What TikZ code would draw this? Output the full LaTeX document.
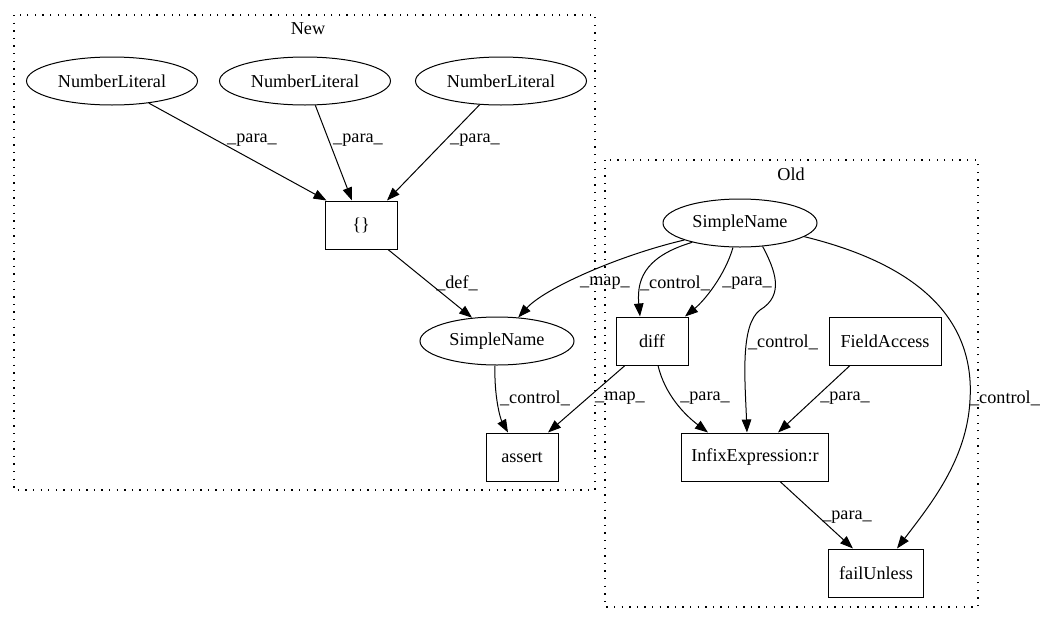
\documentclass[tikz,border=0pt]{standalone}
\usepackage{fontspec}
\setmainfont{Liberation Serif}
\usetikzlibrary{shapes.geometric,arrows.meta}
\begin{document}
\begin{tikzpicture}[x=1pt,y=-1pt,
  every node/.style={font=\fontsize{18.2}{21}\selectfont},
  ell/.style={ellipse,draw,line width=1pt,inner sep=0pt,minimum height=48pt},
  box/.style={rectangle,draw,line width=1pt,inner sep=0pt,minimum height=48pt},
  edge/.style={line width=1pt,-{Triangle[length=13pt,width=9.5pt]}},
  lbl/.style={inner sep=0pt},
  cluster/.style={line width=1.3pt,dash pattern=on 1.3pt off 6.3pt}]
\useasboundingbox (0,0) rectangle (1044,624);
% clusters
\draw[cluster] (14,15) rectangle (595,490);
\node[lbl] (newlbl) at (308,29) {New};
\draw[cluster] (605,160) rectangle (978,607);
\node[lbl] (oldlbl) at (791,174) {Old};
% nodes
\node[ell,minimum width=171pt] (nl1) at (112,81) {NumberLiteral};
\node[ell,minimum width=171pt] (nl2) at (305,81) {NumberLiteral};
\node[ell,minimum width=171pt] (nl3) at (501,81) {NumberLiteral};
\node[box,minimum width=72pt] (br) at (361,225) {\{\}};
\node[ell,minimum width=154pt] (snn) at (497,341) {SimpleName};
\node[box,minimum width=72pt] (as) at (522,457) {assert};
\node[ell,minimum width=154pt] (sno) at (740,223) {SimpleName};
\node[box,minimum width=72pt] (diff) at (652,341) {diff};
\node[box,minimum width=112pt] (fa) at (885,341) {FieldAccess};
\node[box,minimum width=147pt] (inf) at (755,457) {InfixExpression:r};
\node[box,minimum width=95pt] (fu) at (876,573) {failUnless};
% edges
\draw[edge] (nl1.-31) -- ([xshift=2pt]br.north west)
  node[lbl,at={(252,140)}] (e1) {\_para\_};
\draw[edge] (nl2.-67) -- ([xshift=-9pt]br.north)
  node[lbl,at={(358,140)}] (e2) {\_para\_};
\draw[edge] (nl3.-132) -- ([xshift=26pt]br.north)
  node[lbl,at={(475,140)}] (e3) {\_para\_};
\draw[edge] ([xshift=27pt]br.south) -- (snn.137)
  node[lbl,at={(457,283)}] (e4) {\_def\_};
\draw[edge] ([xshift=-2pt]snn.south) .. controls (494,395) and (500,418) .. ([xshift=-14pt]as.north)
  node[lbl,at={(535,398)}] (e5) {\_control\_};
\draw[edge] (sno.-163) .. controls (620,255) and (545,288) .. (snn.48)
  node[lbl,at={(605,283)}] (e6) {\_map\_};
\draw[edge] (sno.-158) .. controls (650,255) and (636,275) .. ([xshift=-12pt]diff.north)
  node[lbl,at={(675,283)}] (e7) {\_control\_};
\draw[edge] ([xshift=-7pt]sno.south) .. controls (725,275) and (705,300) .. ([xshift=33pt]diff.north)
  node[lbl,at={(747,283)}] (e8) {\_para\_};
\draw[edge] (sno.-46) .. controls (775,270) and (785,295) .. (760,310)
  .. controls (740,325) and (745,380) .. ([xshift=-8pt]inf.north)
  node[lbl,at={(783,342)}] (e9) {\_control\_};
\draw[edge] (sno.-12) .. controls (920,265) and (975,320) .. (970,400)
  .. controls (967,460) and (930,505) .. ([xshift=21pt]fu.north)
  node[lbl,at={(1005,398)}] (e10) {\_control\_};
\draw[edge] ([xshift=-27pt]diff.south) -- ([xshift=26pt]as.north)
  node[lbl,at={(620,398)}] (e11) {\_map\_};
\draw[edge] ([xshift=6pt]diff.south) .. controls (665,395) and (685,415) .. ([xshift=-47pt]inf.north)
  node[lbl,at={(705,398)}] (e12) {\_para\_};
\draw[edge] ([xshift=-35pt]fa.south) -- ([xshift=23pt]inf.north)
  node[lbl,at={(845,398)}] (e13) {\_para\_};
\draw[edge] ([xshift=25pt]inf.south) -- ([xshift=-23pt]fu.north)
  node[lbl,at={(847,517)}] (e14) {\_para\_};
\end{tikzpicture}
\end{document}
